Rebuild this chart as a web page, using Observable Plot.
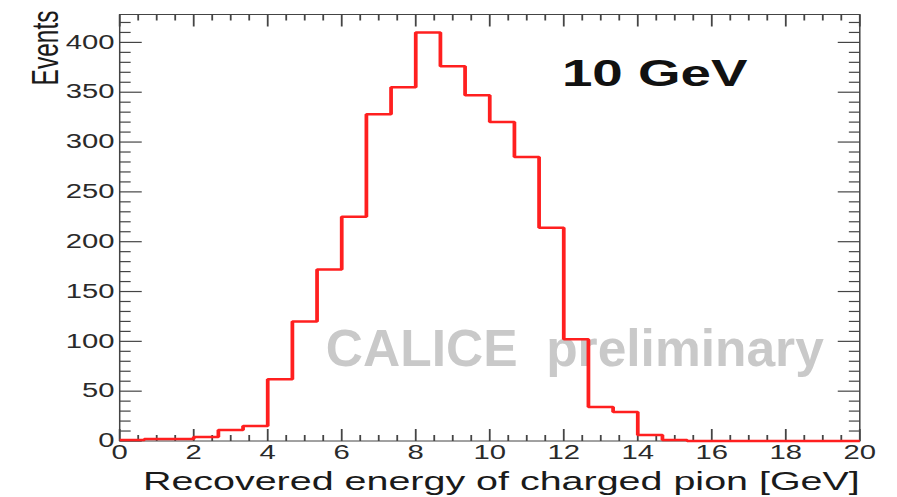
<!DOCTYPE html>
<html>
<head>
<meta charset="utf-8">
<script src="https://cdn.jsdelivr.net/npm/d3@7"></script>
<script src="https://cdn.jsdelivr.net/npm/@observablehq/plot@0.6"></script>
<style>
  html, body { margin: 0; padding: 0; background: #fff; overflow: hidden; }
</style>
</head>
<body>
<div id="chart"></div>
<script>
// ---- data ----
const binLow = 0;
const binWidth = 2 / 3;               // 30 bins over 0..20 GeV
const counts = [1, 2, 2, 4, 11, 15, 62, 120, 172, 225, 328, 355, 410, 376, 347,
                320, 285, 214, 102, 34, 29, 6, 1, 0, 0, 0, 0, 0, 0, 0];
const xMajorTicks = [0, 2, 4, 6, 8, 10, 12, 14, 16, 18, 20];
const xMinorTicks = [0.5, 1, 1.5, 2.5, 3, 3.5, 4.5, 5, 5.5, 6.5, 7, 7.5, 8.5, 9, 9.5,
                     10.5, 11, 11.5, 12.5, 13, 13.5, 14.5, 15, 15.5, 16.5, 17, 17.5,
                     18.5, 19, 19.5];
const yMajorTicks = [0, 50, 100, 150, 200, 250, 300, 350, 400];
const yMinorTicks = [10, 20, 30, 40, 60, 70, 80, 90, 110, 120, 130, 140, 160, 170, 180, 190,
                     210, 220, 230, 240, 260, 270, 280, 290, 310, 320, 330, 340,
                     360, 370, 380, 390, 410, 420];
const xDomain = [0, 20];
const yDomain = [0, 428];
const xTitle = "Recovered energy of charged pion [GeV]";
const yTitle = "Events";
const energyLabel = "10 GeV";
const watermark = "CALICE\u00a0\u00a0preliminary";

// ---- layout ----
const W = 897, H = 497;
const SX = 1.5;                 // the reference is stretched horizontally
const w = W / SX;
const mL = 79.3, mR = w - 572.7, mT = 14, mB = 56.5;
const fw = w - mL - mR;
const fh = H - mT - mB;
const xPerU = (xDomain[1] - xDomain[0]) / fw;
const yPerPx = (yDomain[1] - yDomain[0]) / fh;
const yTickMaj = 14.7 * xPerU, yTickMin = 7.3 * xPerU;
const xTickMaj = 12 * yPerPx, xTickMin = 6 * yPerPx;

// tick segments (inward, all four sides) built from the tick arrays
const tickSegs = [];
for (const [arr, len] of [[xMajorTicks, xTickMaj], [xMinorTicks, xTickMin]]) {
  for (const v of arr) {
    tickSegs.push({x1: v, x2: v, y1: yDomain[0], y2: yDomain[0] + len});
    tickSegs.push({x1: v, x2: v, y1: yDomain[1] - len, y2: yDomain[1]});
  }
}
for (const [arr, len] of [[yMajorTicks, yTickMaj], [yMinorTicks, yTickMin]]) {
  for (const v of arr) {
    tickSegs.push({x1: xDomain[0], x2: xDomain[0] + len, y1: v, y2: v});
    tickSegs.push({x1: xDomain[1] - len, x2: xDomain[1], y1: v, y2: v});
  }
}

const steps = counts.map((c, i) => ({x: binLow + i * binWidth, y: c}));
steps.push({x: binLow + counts.length * binWidth, y: counts[counts.length - 1]});

const axisColor = "#444444";
const font = "'Liberation Sans', Arial, Helvetica, sans-serif";

const svg = Plot.plot({
  width: w,
  height: H,
  marginLeft: mL,
  marginRight: mR,
  marginTop: mT,
  marginBottom: mB,
  style: {fontFamily: font, background: "white"},
  x: {domain: xDomain},
  y: {domain: yDomain},
  marks: [
    Plot.text([watermark], {x: 5.57, y: 92, text: d => d, textAnchor: "start", lineAnchor: "middle",
      fontSize: 51.5, fontWeight: "bold", fill: "#c9c9c9"}),
    Plot.frame({stroke: axisColor, strokeWidth: 1}),
    Plot.link(tickSegs, {x1: "x1", y1: "y1", x2: "x2", y2: "y2", stroke: axisColor, strokeWidth: 1.2}),
    Plot.axisX({anchor: "bottom", ticks: xMajorTicks, tickSize: 0, tickPadding: 4.5, fontSize: 19.5,
      fill: "#2a2a2a", label: null, tickFormat: d => String(d)}),
    Plot.axisY({anchor: "left", ticks: yMajorTicks, tickSize: 0, tickPadding: 3.5, fontSize: 19.5,
      fill: "#2a2a2a", label: null, tickFormat: d => String(d)}),
    Plot.line(steps, {x: "x", y: "y", curve: "step-after", stroke: "#ff1f1f", strokeWidth: 2.5,
      strokeLinejoin: "miter", strokeLinecap: "butt"}),
    Plot.text([xTitle], {frameAnchor: "bottom-right", text: d => d, textAnchor: "end", lineAnchor: "middle",
      dy: 41, fontSize: 26.3, fill: "#1a1a1a"}),
    Plot.text([yTitle], {frameAnchor: "top-left", text: d => d, textAnchor: "end", lineAnchor: "middle",
      rotate: -90, dx: -49, dy: -4, fontSize: 24.5, fill: "#1a1a1a"}),
    Plot.text([energyLabel], {x: 11.95, y: 368, text: d => d, textAnchor: "start", lineAnchor: "middle",
      fontSize: 36.5, fontWeight: "bold", fill: "#111"})
  ]
});

svg.setAttribute("width", W);
svg.setAttribute("height", H);
svg.setAttribute("preserveAspectRatio", "none");
svg.style.width = W + "px";
svg.style.height = H + "px";
svg.style.maxWidth = "none";

svg.querySelectorAll("text").forEach(t => {
  if (t.textContent === watermark) {
    let tr = t.getAttribute("transform");
    if (!tr) {
      const x = t.getAttribute("x") || 0, y = t.getAttribute("y") || 0;
      t.removeAttribute("x"); t.removeAttribute("y");
      tr = `translate(${x},${y})`;
    }
    t.setAttribute("transform", tr + ` scale(${1 / SX},1)`);
  }
});

document.getElementById("chart").appendChild(svg);
</script>
</body>
</html>
